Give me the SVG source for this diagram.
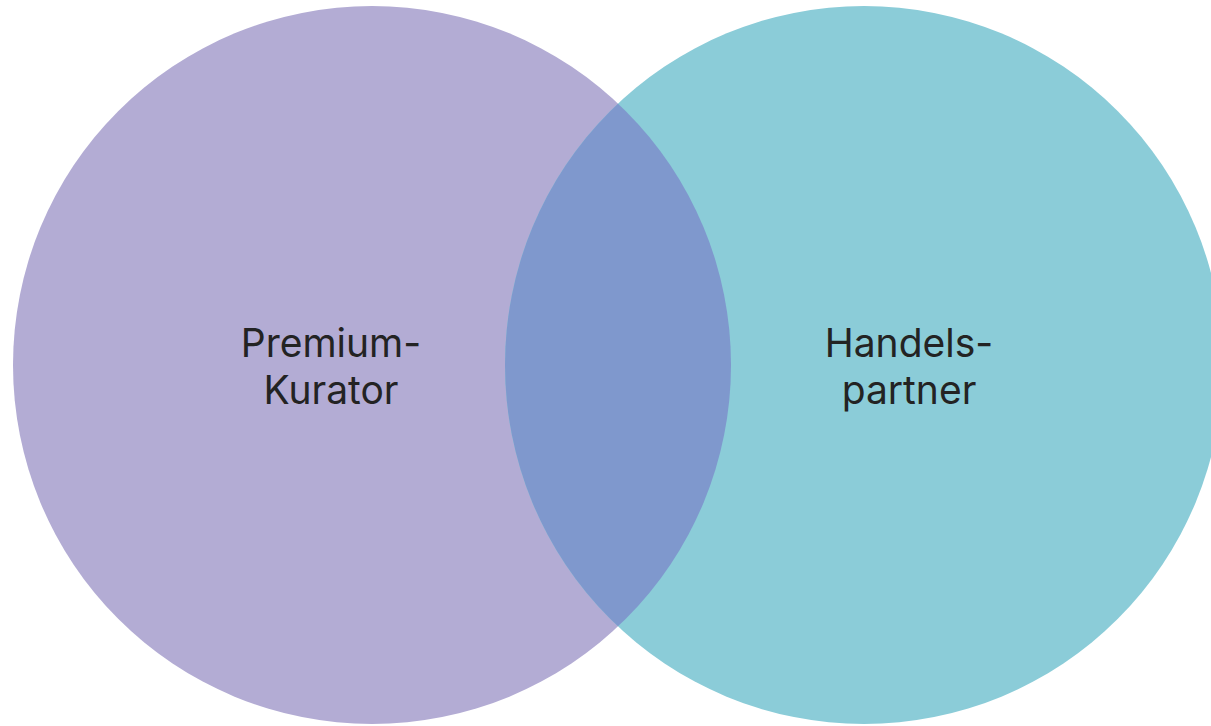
<svg xmlns="http://www.w3.org/2000/svg" width="1211" height="726" viewBox="0 0 1211 726">
<style>
.lbl{font-family:Inter,"Noto Sans","Liberation Sans",sans-serif;font-size:39px;fill:#232323;text-anchor:middle}
</style>
<defs>
<clipPath id="clipL"><circle cx="372" cy="365" r="359"/></clipPath>
</defs>
<rect width="1211" height="726" fill="#ffffff"/>
<g id="premium-kurator">
<circle cx="372" cy="365" r="359" fill="#b3acd4"/>
</g>
<g id="handelspartner">
<circle cx="864" cy="365" r="359" fill="#8bccd8"/>
</g>
<g id="overlap">
<circle cx="864" cy="365" r="359" fill="#7f98cd" clip-path="url(#clipL)"/>
</g>
<g id="labels">
<text class="lbl" x="331" y="357">Premium-</text>
<text class="lbl" x="331" y="404">Kurator</text>
<text class="lbl" x="909" y="357">Handels-</text>
<text class="lbl" x="909" y="404">partner</text>
</g>
<g id="connectors"></g>
</svg>
